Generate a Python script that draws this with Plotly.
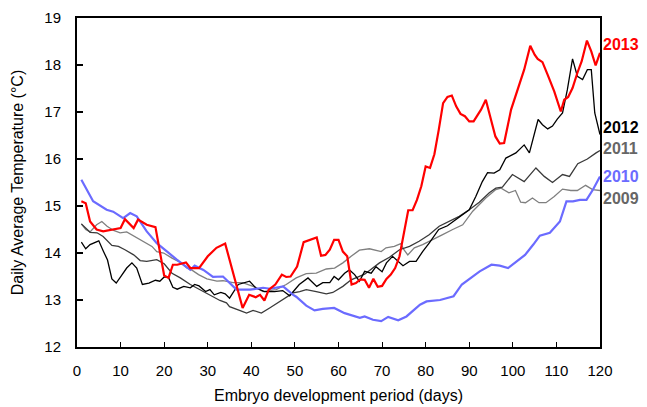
import plotly.graph_objects as go

# ---- data ----
days_2013 = [1, 2, 3, 4.5, 6, 8, 10, 11, 13, 14, 16, 18, 19, 20, 21, 22, 23, 25, 26, 28, 30, 32, 34, 35, 36.5, 38, 39.5, 41, 42, 43, 44, 45.5, 47, 48, 49, 50.5, 52, 53.5, 55, 56, 57, 58, 59, 60, 61, 62, 63, 64, 65, 66, 67, 68, 69, 70, 71, 72, 73, 74, 75, 76, 77, 78, 79, 80, 81, 82, 83, 84, 85, 86, 87, 88, 89, 90, 91, 92.7, 93.8, 95, 96, 97, 98, 99.6, 101, 102.6, 104, 105, 105.7, 106.8, 108, 109.5, 111, 111.8, 112.7, 113.7, 114.8, 115.8, 117, 118, 119, 120]
temp_2013 = [15.1, 15.06, 14.67, 14.5, 14.46, 14.5, 14.53, 14.72, 14.53, 14.71, 14.6, 14.55, 14.0, 13.52, 13.47, 13.75, 13.75, 13.8, 13.68, 13.68, 13.93, 14.11, 14.2, 13.86, 13.29, 12.83, 13.11, 13.06, 13.11, 12.99, 13.22, 13.33, 13.54, 13.49, 13.5, 13.71, 14.23, 14.28, 14.33, 13.94, 13.96, 14.07, 14.28, 14.28, 14.03, 13.93, 13.33, 13.36, 13.44, 13.43, 13.26, 13.45, 13.28, 13.3, 13.45, 13.54, 13.68, 13.93, 14.46, 14.91, 14.91, 15.13, 15.42, 15.84, 15.81, 16.1, 16.62, 17.19, 17.32, 17.35, 17.12, 16.96, 16.91, 16.8, 16.8, 17.05, 17.26, 16.8, 16.48, 16.33, 16.34, 17.05, 17.44, 17.9, 18.41, 18.22, 18.13, 18.06, 17.79, 17.44, 17.01, 17.26, 17.32, 17.51, 17.83, 18.08, 18.52, 18.29, 17.99, 18.26]

days_2012 = [1, 2, 3, 5, 6, 7, 8, 9, 10, 11.4, 12.6, 13.7, 15, 16.5, 18, 19, 20, 21, 22, 23, 24.5, 26, 27, 28, 29.5, 30.5, 31.5, 33, 34, 35, 37, 39.6, 41, 43, 45.3, 47.2, 48.8, 51, 53, 55, 56.4, 58, 59, 60, 61.4, 62.5, 63.7, 64.8, 66, 67.5, 68.6, 70, 71, 72.4, 74.8, 76.3, 77.8, 79.3, 80.8, 83, 85, 87, 88.5, 90, 91.5, 93, 94.2, 95.7, 97, 98.4, 100.7, 102.6, 103.8, 104.9, 105.8, 106.8, 108, 109.1, 110.2, 111.4, 112.5, 113.7, 114.8, 116, 117.1, 118, 118.8, 120]
temp_2012 = [14.23, 14.09, 14.18, 14.26, 14.05, 13.85, 13.45, 13.36, 13.49, 13.68, 13.79, 13.68, 13.33, 13.36, 13.42, 13.4, 13.49, 13.48, 13.27, 13.23, 13.29, 13.26, 13.33, 13.3, 13.18, 13.22, 13.11, 13.16, 13.13, 13.04, 13.33, 13.4, 13.26, 13.18, 13.18, 13.2, 13.09, 13.33, 13.47, 13.29, 13.37, 13.37, 13.5, 13.43, 13.57, 13.64, 13.54, 13.4, 13.61, 13.57, 13.71, 13.6, 13.79, 13.93, 13.73, 13.82, 13.82, 14.03, 14.21, 14.5, 14.58, 14.71, 14.81, 14.92, 15.2, 15.52, 15.71, 15.7, 15.77, 16.02, 16.13, 16.3, 16.13, 16.55, 16.84, 16.73, 16.64, 16.7, 16.85, 16.98, 17.47, 18.13, 17.76, 17.69, 17.9, 17.9, 16.98, 16.52]

days_2011 = [1, 3, 4.6, 6, 8, 9.5, 11, 13, 14.5, 16, 18.3, 20, 21.8, 23.7, 26, 28.2, 30.5, 32.8, 34.3, 35, 37.3, 38.9, 40.4, 42.3, 44.2, 46.1, 47.7, 49.6, 51.1, 52.6, 54.9, 57.2, 58.7, 61, 62.9, 64, 66, 69.4, 71.7, 74, 76.3, 78.5, 80.8, 83.1, 85.4, 87.7, 90, 92.3, 94.6, 96.1, 97.6, 99.9, 102.6, 105.3, 107.2, 109.1, 111.4, 113, 114.9, 117.1, 119.1, 120]
temp_2011 = [14.62, 14.44, 14.43, 14.35, 14.16, 14.14, 14.07, 13.96, 13.84, 13.82, 13.86, 13.77, 13.57, 13.47, 13.33, 13.22, 13.11, 12.99, 12.94, 12.86, 12.78, 12.72, 12.78, 12.72, 12.83, 12.94, 13.04, 13.15, 13.18, 13.22, 13.18, 13.13, 13.16, 13.29, 13.43, 13.47, 13.55, 13.79, 13.91, 14.07, 14.14, 14.25, 14.39, 14.57, 14.67, 14.78, 14.92, 15.08, 15.28, 15.38, 15.4, 15.67, 15.52, 15.81, 15.63, 15.5, 15.67, 15.63, 15.9, 16.0, 16.13, 16.18]

days_2010 = [1, 3.7, 6.8, 8.3, 10.6, 12.2, 13.7, 16, 18.3, 20.6, 22.9, 26, 27, 29, 31.2, 33.5, 35, 36.6, 39.7, 42.7, 44.3, 47.3, 49.6, 50.3, 52.6, 54.5, 56.4, 59, 61.4, 63.3, 64.9, 66, 67.9, 69.8, 71.4, 73.7, 75.6, 78.7, 80.2, 83.3, 84.8, 86.4, 88.3, 90.9, 92.4, 95.1, 97, 98.9, 100.8, 102.8, 104.7, 106.2, 108.5, 110.8, 112.3, 113.8, 115.4, 116.9, 118.4, 120]
temp_2010 = [15.56, 15.1, 14.92, 14.88, 14.74, 14.85, 14.78, 14.46, 14.21, 14.03, 13.86, 13.64, 13.73, 13.64, 13.49, 13.5, 13.36, 13.22, 13.22, 13.26, 13.24, 13.29, 13.11, 13.07, 12.88, 12.78, 12.81, 12.83, 12.72, 12.67, 12.62, 12.65, 12.58, 12.55, 12.64, 12.57, 12.65, 12.9, 12.97, 13.0, 13.04, 13.08, 13.33, 13.5, 13.61, 13.75, 13.73, 13.68, 13.82, 13.96, 14.18, 14.37, 14.43, 14.67, 15.1, 15.1, 15.13, 15.13, 15.35, 15.63]

days_2009 = [1, 2, 3, 4.5, 5.7, 6.9, 8.4, 9.9, 11.4, 13.4, 15.3, 17.2, 18.3, 19.9, 21.8, 23.7, 25.2, 26.3, 27.9, 29.8, 32.1, 33.5, 35.8, 38, 40.4, 42.7, 45.7, 48, 50.3, 52.6, 54.9, 57.2, 59.1, 61, 62.9, 64.8, 67.1, 69.8, 70.9, 72.8, 74.3, 75, 75.9, 77.4, 79.3, 81.6, 83.9, 86.2, 88.5, 90.8, 93.8, 96.1, 97.3, 99.1, 100.6, 101.8, 102.9, 104.5, 106, 107.6, 109.5, 111.4, 113.3, 114.8, 116.7, 118.3, 120]
temp_2009 = [14.62, 14.5, 14.45, 14.6, 14.67, 14.57, 14.48, 14.43, 14.45, 14.34, 14.25, 14.14, 14.03, 14.0, 13.89, 13.8, 13.68, 13.64, 13.54, 13.45, 13.4, 13.41, 13.37, 13.37, 13.29, 13.18, 13.22, 13.33, 13.47, 13.56, 13.57, 13.66, 13.68, 13.79, 13.93, 14.06, 14.09, 14.03, 14.11, 14.14, 14.2, 14.07, 13.96, 14.11, 14.18, 14.28, 14.39, 14.5, 14.6, 14.89, 15.17, 15.35, 15.38, 15.28, 15.33, 15.08, 15.07, 15.17, 15.07, 15.07, 15.2, 15.36, 15.33, 15.33, 15.44, 15.35, 15.33]

x_ticks = list(range(0, 121, 10))
y_ticks = list(range(12, 20))

series = [
    ("2009", days_2009, temp_2009, "#7f7f7f", 1.3),
    ("2011", days_2011, temp_2011, "#3a3a3a", 1.3),
    ("2012", days_2012, temp_2012, "#000000", 1.3),
    ("2010", days_2010, temp_2010, "#6b6bff", 2.2),
    ("2013", days_2013, temp_2013, "#ff0000", 2.2),
]

fig = go.Figure()
for name, xs, ys, col, w in series:
    fig.add_trace(go.Scatter(x=xs, y=ys, mode="lines", name=name,
                             line=dict(color=col, width=w), showlegend=False))

labels = [
    ("2013", 18.43, "#ff0000"),
    ("2012", 16.68, "#000000"),
    ("2011", 16.22, "#666666"),
    ("2010", 15.62, "#6b6bff"),
    ("2009", 15.15, "#666666"),
]
for text, yv, col in labels:
    fig.add_annotation(x=1, xref="paper", y=yv, yref="y", text="<b>%s</b>" % text,
                       showarrow=False, xanchor="left", xshift=1,
                       font=dict(family="Liberation Sans, Arial", size=16, color=col))

# page body has an 8px margin, so margins are offset to place the frame
fig.update_layout(
    width=647, height=407,
    margin=dict(l=69, r=55, t=10, b=68, autoexpand=False),
    paper_bgcolor="white", plot_bgcolor="white",
    font=dict(family="Liberation Sans, Arial", size=15, color="black"),
)
fig.update_xaxes(range=[0, 120], tickvals=x_ticks, ticks="inside", ticklen=5,
                 tickwidth=1, tickcolor="black", showline=True, linecolor="black",
                 linewidth=2, mirror=True, showgrid=False, zeroline=False,
                 automargin=False, ticklabelstandoff=9,
                 title=dict(text="Embryo development period (days)", standoff=12,
                            font=dict(size=16)))
fig.update_yaxes(range=[12, 19], tickvals=y_ticks, ticks="inside", ticklen=6,
                 tickwidth=1.5, tickcolor="black", showline=True, linecolor="black",
                 linewidth=2, mirror=True, showgrid=False, zeroline=False,
                 automargin=False, ticklabelstandoff=11,
                 title=dict(text="Daily Average Temperature (°C)", standoff=17,
                            font=dict(size=16)))

fig.write_html("out.html")
